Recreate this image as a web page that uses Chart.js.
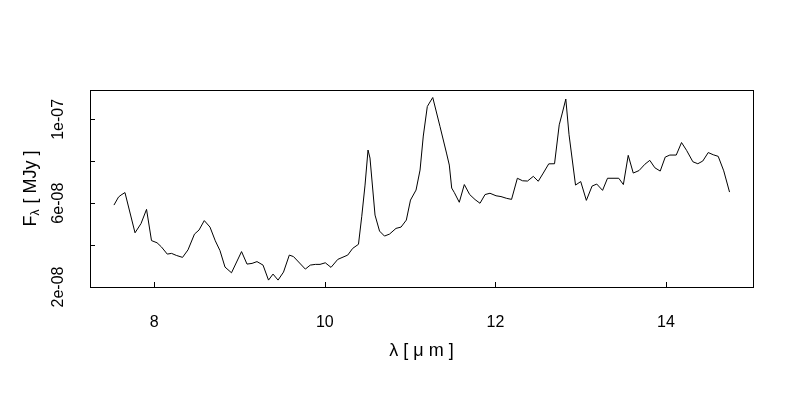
<!DOCTYPE html>
<html>
<head>
<meta charset="utf-8">
<script src="https://cdn.jsdelivr.net/npm/chart.js@4"></script>
<style>
  html, body { margin: 0; padding: 0; background: #fff; }
  canvas { display: block; }
</style>
</head>
<body>
<canvas id="specChart" width="800" height="400"></canvas>
<script>
// 파장 [um]
const wavelengths = [
  7.527, 7.580, 7.610, 7.656, 7.774, 7.844, 7.909, 7.967, 8.032, 8.082,
  8.152, 8.202, 8.258, 8.331, 8.395, 8.471, 8.524, 8.586, 8.653, 8.715,
  8.770, 8.829, 8.905, 9.023, 9.087, 9.146, 9.204, 9.275, 9.339, 9.392,
  9.451, 9.515, 9.583, 9.632, 9.771, 9.829, 9.888, 9.943, 10.005, 10.072,
  10.151, 10.268, 10.326, 10.394, 10.432, 10.471, 10.506, 10.529, 10.588, 10.641,
  10.699, 10.758, 10.834, 10.893, 10.955, 11.004, 11.069, 11.116, 11.154, 11.201,
  11.225, 11.265, 11.350, 11.426, 11.459, 11.487, 11.518, 11.576, 11.635, 11.698,
  11.761, 11.819, 11.878, 11.936, 12.007, 12.065, 12.132, 12.189, 12.257, 12.318,
  12.376, 12.444, 12.502, 12.561, 12.625, 12.693, 12.748, 12.784, 12.825, 12.863,
  12.939, 13.000, 13.066, 13.133, 13.188, 13.256, 13.314, 13.446, 13.500, 13.557,
  13.616, 13.684, 13.752, 13.810, 13.869, 13.932, 13.991, 14.045, 14.120, 14.182,
  14.241, 14.315, 14.373, 14.431, 14.495, 14.554, 14.612, 14.677, 14.745
];

// F_lambda [MJy]
const fluxes = [
  5.909e-8, 6.291e-8, 6.387e-8, 6.506e-8, 4.587e-8, 5.026e-8, 5.704e-8, 4.215e-8, 4.110e-8, 3.919e-8,
  3.570e-8, 3.604e-8, 3.508e-8, 3.413e-8, 3.771e-8, 4.525e-8, 4.716e-8, 5.169e-8, 4.859e-8, 4.205e-8,
  3.737e-8, 2.950e-8, 2.678e-8, 3.690e-8, 3.093e-8, 3.126e-8, 3.212e-8, 3.045e-8, 2.329e-8, 2.616e-8,
  2.329e-8, 2.711e-8, 3.523e-8, 3.451e-8, 2.854e-8, 3.045e-8, 3.079e-8, 3.079e-8, 3.155e-8, 2.936e-8,
  3.317e-8, 3.523e-8, 3.842e-8, 4.038e-8, 5.351e-8, 6.864e-8, 8.535e-8, 8.153e-8, 5.432e-8, 4.668e-8,
  4.430e-8, 4.525e-8, 4.797e-8, 4.859e-8, 5.193e-8, 6.148e-8, 6.625e-8, 7.580e-8, 9.203e-8, 10.611e-8,
  10.778e-8, 11.041e-8, 9.656e-8, 8.391e-8, 7.819e-8, 6.721e-8, 6.506e-8, 6.043e-8, 6.888e-8, 6.411e-8,
  6.172e-8, 5.995e-8, 6.411e-8, 6.473e-8, 6.353e-8, 6.315e-8, 6.229e-8, 6.181e-8, 7.189e-8, 7.069e-8,
  7.055e-8, 7.279e-8, 7.045e-8, 7.437e-8, 7.876e-8, 7.881e-8, 9.737e-8, 10.301e-8, 10.969e-8, 9.265e-8,
  6.864e-8, 7.031e-8, 6.134e-8, 6.816e-8, 6.912e-8, 6.611e-8, 7.189e-8, 7.189e-8, 6.888e-8, 8.282e-8,
  7.437e-8, 7.556e-8, 7.857e-8, 8.043e-8, 7.690e-8, 7.532e-8, 8.200e-8, 8.296e-8, 8.296e-8, 8.893e-8,
  8.520e-8, 7.976e-8, 7.881e-8, 8.010e-8, 8.415e-8, 8.310e-8, 8.234e-8, 7.542e-8, 6.530e-8
];

// 눈금
const xTicks = [8, 10, 12, 14];
const yTicks = [2e-8, 4e-8, 6e-8, 8e-8, 1e-7];
const yTickLabels = ['2e-08', '', '6e-08', '', '1e-07'];

const FONT = '"Liberation Sans", Arial, Helvetica, sans-serif';
Chart.defaults.font.family = FONT;
Chart.defaults.color = '#000';

// 박스, 안쪽 눈금, y축 글자
const framePlugin = {
  id: 'frame',
  afterDraw(chart) {
    const { ctx, chartArea: a, scales } = chart;
    ctx.save();
    ctx.strokeStyle = '#000';
    ctx.lineWidth = 1;
    ctx.strokeRect(a.left + 0.5, a.top + 0.5, a.right - a.left, a.bottom - a.top);

    ctx.beginPath();
    xTicks.forEach(v => {
      const px = Math.round(scales.x.getPixelForValue(v)) + 0.5;
      ctx.moveTo(px, a.bottom);
      ctx.lineTo(px, a.bottom - 5);
    });
    yTicks.forEach(v => {
      const py = Math.round(scales.y.getPixelForValue(v)) + 0.5;
      ctx.moveTo(a.left, py);
      ctx.lineTo(a.left + 5, py);
    });
    ctx.stroke();

    // y 눈금 글자 (세로)
    ctx.fillStyle = '#000';
    ctx.font = '16px ' + FONT;
    ctx.textAlign = 'center';
    ctx.textBaseline = 'alphabetic';
    yTicks.forEach((v, i) => {
      if (!yTickLabels[i]) return;
      const py = scales.y.getPixelForValue(v);
      ctx.save();
      ctx.translate(63, py);
      ctx.rotate(-Math.PI / 2);
      ctx.fillText(yTickLabels[i], 0, 0);
      ctx.restore();
    });

    // y축 제목 F_lambda [ MJy ]
    const mainFont = '18px ' + FONT;
    const subFont = '12px ' + FONT;
    const rest = ' [ MJy ]';
    ctx.font = mainFont;
    const wF = ctx.measureText('F').width;
    const wRest = ctx.measureText(rest).width;
    ctx.font = subFont;
    const wSub = ctx.measureText('λ').width + 1;
    const total = wF + wSub + wRest;
    ctx.save();
    ctx.translate(36, (a.top + a.bottom) / 2);
    ctx.rotate(-Math.PI / 2);
    ctx.textAlign = 'left';
    let cx = -total / 2;
    ctx.font = mainFont;
    ctx.fillText('F', cx, 0);
    cx += wF;
    ctx.font = subFont;
    ctx.fillText('λ', cx, 3);
    cx += wSub;
    ctx.font = mainFont;
    ctx.fillText(rest, cx, 0);
    ctx.restore();

    ctx.restore();
  }
};

const points = wavelengths.map((w, i) => ({ x: w, y: fluxes[i] }));

new Chart(document.getElementById('specChart'), {
  type: 'line',
  data: {
    datasets: [{
      data: points,
      borderColor: '#000',
      borderWidth: 1,
      pointRadius: 0,
      tension: 0,
      fill: false
    }]
  },
  options: {
    responsive: false,
    animation: false,
    devicePixelRatio: 1,
    layout: { padding: { top: 90, right: 47, left: 0, bottom: 0 } },
    plugins: {
      legend: { display: false },
      tooltip: { enabled: false }
    },
    scales: {
      x: {
        type: 'linear',
        min: 7.246,
        max: 15.02,
        afterBuildTicks: s => { s.ticks = xTicks.map(v => ({ value: v })); },
        afterFit: s => { s.height = 113; },
        grid: { display: false, drawTicks: false },
        border: { display: false },
        ticks: {
          font: { size: 16 },
          padding: 26,
          maxRotation: 0,
          callback: v => String(v)
        },
        title: {
          display: true,
          text: 'λ [ μ m ]',
          font: { size: 18 },
          padding: { top: 0, bottom: 38 }
        }
      },
      y: {
        type: 'linear',
        min: 2e-8,
        max: 1.14e-7,
        afterBuildTicks: s => { s.ticks = yTicks.map(v => ({ value: v })); },
        afterFit: s => { s.width = 90; },
        grid: { display: false, drawTicks: false },
        border: { display: false },
        ticks: { display: false }
      }
    }
  },
  plugins: [framePlugin]
});
</script>
</body>
</html>
